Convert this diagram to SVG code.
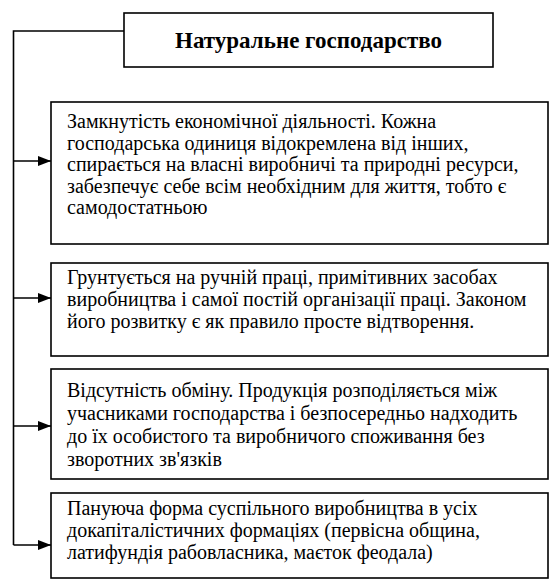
<svg xmlns="http://www.w3.org/2000/svg" width="556" height="584" viewBox="0 0 556 584">
<style>
.box{fill:#fff;stroke:#000;stroke-width:1.6}
.c{fill:none;stroke:#000;stroke-width:1.6}
</style>
<defs>
<marker id="ah" markerWidth="13" markerHeight="10" refX="13" refY="5" orient="auto" markerUnits="userSpaceOnUse">
<path d="M0,0 L13,5 L0,10 z" fill="#000"/>
</marker>
</defs>
<rect width="556" height="584" fill="#fff"/>
<g id="connectors">
<path class="c" d="M124,31 H13.5 V545"/>
<path class="c" d="M13.5,161 H51" marker-end="url(#ah)"/>
<path class="c" d="M13.5,298 H51" marker-end="url(#ah)"/>
<path class="c" d="M13.5,426 H51" marker-end="url(#ah)"/>
<path class="c" d="M13.5,545 H51" marker-end="url(#ah)"/>
</g>
<g font-family="Liberation Serif, Times New Roman, Noto Serif, serif" fill="#000">
<g id="title">
<rect class="box" x="124" y="13" width="369" height="54"/>
<text x="308.5" y="48" text-anchor="middle" font-size="23" font-weight="bold">Натуральне господарство</text>
</g>
<g id="box1" font-size="20">
<rect class="box" x="51" y="102" width="497" height="142"/>
<text x="67" y="128">Замкнутість економічної діяльності. Кожна</text>
<text x="67" y="149.5">господарська одиниця відокремлена від інших,</text>
<text x="67" y="171">спирається на власні виробничі та природні ресурси,</text>
<text x="67" y="192.5">забезпечує себе всім необхідним для життя, тобто є</text>
<text x="67" y="214">самодостатньою</text>
</g>
<g id="box2" font-size="20">
<rect class="box" x="51" y="263" width="497" height="93"/>
<text x="67" y="284">Грунтується на ручній праці, примітивних засобах</text>
<text x="67" y="306">виробництва і самої постій організації праці. Законом</text>
<text x="67" y="328">його розвитку є як правило просте відтворення.</text>
</g>
<g id="box3" font-size="20">
<rect class="box" x="51" y="369" width="497" height="110"/>
<text x="67" y="397">Відсутність обміну. Продукція розподіляється між</text>
<text x="67" y="420">учасниками господарства і безпосередньо надходить</text>
<text x="67" y="443">до їх особистого та виробничого споживання без</text>
<text x="67" y="466">зворотних зв'язків</text>
</g>
<g id="box4" font-size="20">
<rect class="box" x="51" y="493" width="497" height="85"/>
<text x="67" y="515">Пануюча форма суспільного виробництва в усіх</text>
<text x="67" y="537">докапіталістичних формаціях (первісна община,</text>
<text x="67" y="559">латифундія рабовласника, маєток феодала)</text>
</g>
</g>
</svg>
